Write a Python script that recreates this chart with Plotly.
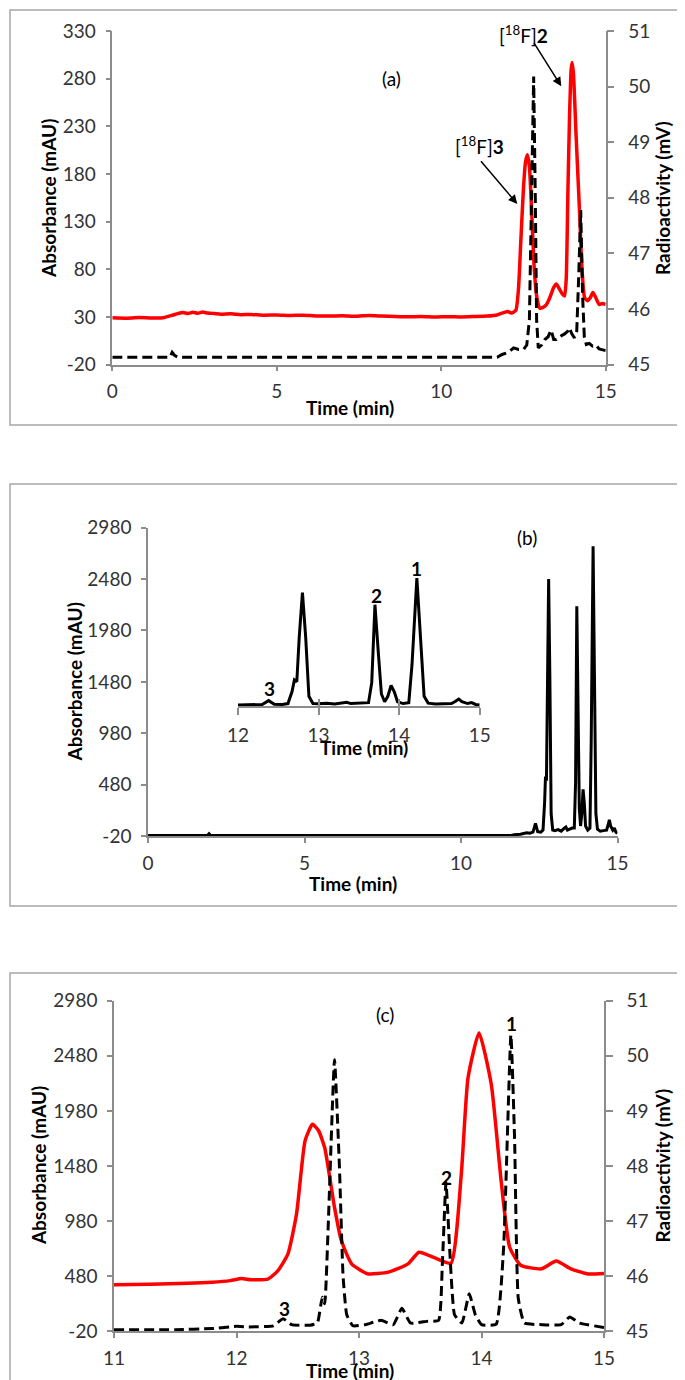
import plotly.graph_objects as go

W, H = 685, 1380
FONT = "Lato, Open Sans, sans-serif"
TXT = "#333333"
GRAY = "#8c8c8c"
FRAME = "#a6a6a6"

# ---------------- Panel (a) ----------------
a_uv_time = [0, 0.4, 0.8, 1.2, 1.55, 1.7, 1.85, 2.0, 2.15, 2.3, 2.45, 2.6, 2.75, 2.9, 3.1, 3.3,
             3.6, 3.9, 4.2, 4.6, 5.0, 5.4, 5.8, 6.2, 6.6, 7.0, 7.4, 7.8, 8.2, 8.6, 9.0, 9.4,
             9.8, 10.2, 10.6, 11.0, 11.4, 11.7, 11.9, 12.03, 12.15, 12.27, 12.35, 12.42, 12.5,
             12.56, 12.62, 12.68, 12.75, 12.82, 12.9, 13.0, 13.1, 13.2, 13.3, 13.42, 13.5,
             13.58, 13.68, 13.75, 13.8, 13.85, 13.9, 13.95, 13.98, 14.02, 14.1, 14.2, 14.28,
             14.36, 14.45, 14.53, 14.61, 14.7, 14.8, 14.9, 15.0]
a_uv_mau = [29, 28.6, 29.2, 28.8, 29, 30.5, 32, 33.5, 34.5, 33.5, 34.8, 33.8, 35, 34, 33.5, 32.8,
            33.2, 32.3, 32.6, 31.8, 32, 31.5, 31.8, 31, 30.8, 31.2, 30.6, 31.5, 30.8, 30.3, 30, 30.4,
            29.8, 30.2, 29.9, 30.3, 30.8, 32, 34.5, 35.5, 34, 37, 60, 110, 165,
            192, 200, 188, 140, 85, 52, 39, 40, 43, 50, 61, 64.5,
            60, 54, 52, 70, 159, 240, 290, 297, 285, 220, 144, 80,
            50, 47, 50, 55.5, 50, 43, 44, 43]
a_rad_time = [0, 1.75, 1.82, 1.9, 2.0, 11.7, 11.85, 12.05, 12.2, 12.35, 12.5, 12.6, 12.68, 12.75,
              12.81, 12.86, 12.9, 12.95, 13.05, 13.15, 13.25, 13.34, 13.42, 13.5, 13.6, 13.75,
              13.85, 13.9, 13.97, 14.05, 14.12, 14.18, 14.24, 14.3, 14.35, 14.41, 14.5, 14.6,
              14.7, 14.8, 15.0]
a_rad_mv = [45.13, 45.13, 45.22, 45.16, 45.13, 45.13, 45.18, 45.22, 45.3, 45.27, 45.27, 45.35, 45.8, 48.6,
            50.18, 48.0, 45.8, 45.3, 45.35, 45.45, 45.5, 45.62, 45.45, 45.45, 45.5, 45.55,
            45.6, 45.66, 45.55, 45.48, 45.6, 46.6, 47.78, 46.2, 45.5, 45.36, 45.38, 45.33,
            45.35, 45.28, 45.25]

# ---------------- Panel (b) ----------------
b_time = [0, 1.9, 1.95, 2.0, 11.6, 11.7, 11.9, 12.0, 12.1, 12.2, 12.3, 12.38, 12.45, 12.55, 12.62,
          12.67, 12.7, 12.73, 12.76, 12.8, 12.84, 12.88, 12.93, 13.0, 13.1, 13.2, 13.3, 13.35,
          13.4, 13.5, 13.55, 13.62, 13.66, 13.7, 13.74, 13.78, 13.82, 13.86, 13.9, 13.94, 13.98,
          14.05, 14.12, 14.16, 14.22, 14.27, 14.31, 14.36, 14.45, 14.55, 14.65, 14.7, 14.74,
          14.78, 14.85, 14.9, 14.95, 15.0]
b_mau = [-12, -12, 5, -12, -12, -5, 0, 10, 15, 10, 20, 105, 25, 20, 40,
         300, 560, 520, 1500, 2480, 1500, 200, 40, 35, 45, 30, 60, 70,
         40, 55, 60, 60, 500, 2215, 1200, 250, 80, 200, 437, 300, 80,
         40, 60, 900, 2798, 1400, 200, 50, 30, 35, 40, 90, 140,
         80, 40, 60, 20, 10]

# ---------------- Panel (c) ----------------
c_uv_time = [11.0, 11.3, 11.6, 11.8, 11.95, 12.04, 12.12, 12.26, 12.34, 12.42, 12.49, 12.56, 12.62,
             12.67, 12.72, 12.80, 12.855, 12.94, 13.07, 13.24, 13.4, 13.49, 13.62, 13.75, 13.835,
             13.89, 13.98, 14.08, 14.16, 14.23, 14.32, 14.49, 14.61, 14.73, 14.87, 15.0]
c_uv_mau = [402, 408, 415, 425, 440, 458, 448, 456, 532, 682, 1044, 1710, 1858,
            1800, 1647, 1104, 806, 592, 502, 517, 592, 697, 646, 598, 1406,
            2280, 2688, 2220, 1349, 743, 580, 547, 617, 547, 500, 505]
c_rad_time = [11.0, 11.5, 11.8, 12.0, 12.1, 12.3, 12.38, 12.45, 12.6, 12.66, 12.7, 12.72, 12.75,
              12.8, 12.84, 12.87, 12.9, 12.95, 13.05, 13.18, 13.28, 13.35, 13.42, 13.55, 13.65,
              13.68, 13.71, 13.74, 13.78, 13.84, 13.9, 13.95, 14.0, 14.12, 14.18, 14.24, 14.27,
              14.3, 14.35, 14.5, 14.65, 14.72, 14.8, 15.0]
c_rad_mv = [45.03, 45.03, 45.05, 45.09, 45.08, 45.1, 45.23, 45.12, 45.11, 45.15, 45.62, 45.5, 47.0,
            49.93, 48.0, 46.0, 45.3, 45.1, 45.12, 45.2, 45.12, 45.42, 45.15, 45.18, 45.2,
            46.2, 47.70, 46.5, 45.3, 45.15, 45.68, 45.3, 45.12, 45.13, 46.5, 50.38, 48.5,
            45.6, 45.15, 45.12, 45.12, 45.26, 45.15, 45.07]

# ---------------- Tick labels ----------------
a_x_ticks = [0, 5, 10, 15]
a_left_ticks = [-20, 30, 80, 130, 180, 230, 280, 330]
rad_ticks = [45, 46, 47, 48, 49, 50, 51]
bc_left_ticks = [-20, 480, 980, 1480, 1980, 2480, 2980]
inset_x_ticks = [12, 13, 14, 15]
c_x_ticks = [11, 12, 13, 14, 15]


def px(x):
    return x / W


def py(y):
    return 1 - y / H


def txt(vals):
    return [str(v) for v in vals]   # keeps a plain hyphen for "-20"


RED = dict(color="#ff0000", width=3.5, shape="spline", smoothing=0.5)
DASH = dict(color="#000000", width=3, dash="10px,5px")
DASH_C = dict(color="#000000", width=3, dash="10px,5px", shape="spline", smoothing=0.4)
SOLID = dict(color="#000000", width=3)

fig = go.Figure()
fig.add_trace(go.Scatter(x=a_uv_time, y=a_uv_mau, mode="lines", line=RED, xaxis="x", yaxis="y"))
fig.add_trace(go.Scatter(x=a_rad_time, y=a_rad_mv, mode="lines", line=DASH, xaxis="x", yaxis="y2"))
fig.add_trace(go.Scatter(x=b_time, y=b_mau, mode="lines", line=SOLID, xaxis="x2", yaxis="y3"))
fig.add_trace(go.Scatter(x=b_time, y=b_mau, mode="lines", line=SOLID, xaxis="x3", yaxis="y4"))
fig.add_trace(go.Scatter(x=[], y=[], mode="lines", xaxis="x5", yaxis="y4", hoverinfo="skip"))
fig.add_trace(go.Scatter(x=c_uv_time, y=c_uv_mau, mode="lines", line=RED, xaxis="x4", yaxis="y5"))
fig.add_trace(go.Scatter(x=c_rad_time, y=c_rad_mv, mode="lines", line=DASH_C, xaxis="x4", yaxis="y6"))

ax = dict(showline=True, linecolor=GRAY, linewidth=1.5, ticks="outside", ticklen=5,
          tickcolor=GRAY, tickwidth=1.5, showgrid=False, zeroline=False, automargin=False,
          tickfont=dict(family=FONT, size=19, color=TXT), fixedrange=True)
xs = dict(ax, ticklabelstandoff=4)
yl = dict(ax, ticklabelstandoff=6)
yr = dict(ax, ticklabelstandoff=10, ticklen=7)

fig.update_layout(
    template="none",
    width=W, height=H, margin=dict(l=0, r=0, t=0, b=0, pad=0),
    paper_bgcolor="white", plot_bgcolor="rgba(0,0,0,0)", showlegend=False,
    xaxis=dict(xs, domain=[px(104.3), px(597.7)], range=[0, 15], tickvals=a_x_ticks,
               ticktext=txt(a_x_ticks), anchor="y"),
    yaxis=dict(yl, domain=[py(356.5), py(23)], range=[-20, 330], tickvals=a_left_ticks,
               ticktext=txt(a_left_ticks), anchor="x"),
    yaxis2=dict(yr, range=[45, 51], tickvals=rad_ticks, ticktext=txt(rad_ticks),
                overlaying="y", side="right", anchor="x"),
    xaxis2=dict(xs, domain=[px(140), px(609.5)], range=[0, 15], tickvals=a_x_ticks,
                ticktext=txt(a_x_ticks), anchor="y3"),
    yaxis3=dict(yl, domain=[py(828.3), py(519.5)], range=[-20, 2980], tickvals=bc_left_ticks,
                ticktext=txt(bc_left_ticks), anchor="x2"),
    xaxis3=dict(xs, domain=[px(230), px(471.7)], range=[12, 15], tickvals=inset_x_ticks,
                ticktext=txt(inset_x_ticks), anchor="y4", ticklen=7),
    # inner half of the inset's cross ticks
    xaxis5=dict(domain=[px(230), px(471.7)], range=[12, 15], tickvals=inset_x_ticks,
                showticklabels=False, showline=False, showgrid=False, zeroline=False,
                ticks="inside", ticklen=7, tickwidth=1.5, tickcolor=GRAY,
                overlaying="x3", anchor="y4", side="bottom", fixedrange=True),
    yaxis4=dict(domain=[py(698.3), py(561)], range=[-20, 3000], visible=False, anchor="x3",
                fixedrange=True, showgrid=False, zeroline=False),
    xaxis4=dict(xs, domain=[px(106), px(596)], range=[11, 15], tickvals=c_x_ticks,
                ticktext=txt(c_x_ticks), anchor="y5"),
    yaxis5=dict(yl, domain=[py(1323.3), py(992.7)], range=[-20, 2980], tickvals=bc_left_ticks,
                ticktext=txt(bc_left_ticks), anchor="x4"),
    yaxis6=dict(yr, range=[45, 51], tickvals=rad_ticks, ticktext=txt(rad_ticks),
                overlaying="y5", side="right", anchor="x4"),
)

# Frames around each panel
for (x0, y0, x1, y1) in [(2, 2, 683, 417), (2, 476, 683, 898), (2, 965, 683, 1378)]:
    fig.add_shape(type="rect", xref="paper", yref="paper", x0=px(x0), x1=px(x1), y0=py(y1), y1=py(y0),
                  line=dict(color=FRAME, width=1.5), fillcolor="rgba(0,0,0,0)", layer="below")


def label(text, x, y, size=18, angle=0, bold=False):
    fig.add_annotation(text=(f"<b>{text}</b>" if bold else text), xref="paper", yref="paper",
                       x=px(x), y=py(y), xanchor="center", yanchor="middle", showarrow=False,
                       textangle=angle, font=dict(family=FONT, size=size, color="#000000"))


# Axis titles
label("Absorbance (mAU)", 40, 191, size=19, angle=-90, bold=True)
label("Radioactivity (mV)", 655, 190, size=19, angle=-90, bold=True)
label("Time (min)", 342, 400, size=19, bold=True)
label("Absorbance (mAU)", 65.5, 674, size=19, angle=-90, bold=True)
label("Time (min)", 345, 875, size=19, bold=True)
label("Time (min)", 356, 739, size=19, bold=True)
label("Absorbance (mAU)", 30.6, 1157.5, size=19, angle=-90, bold=True)
label("Radioactivity (mV)", 654, 1157.5, size=19, angle=-90, bold=True)
label("Time (min)", 342, 1362, size=19, bold=True)

# Panel labels and peak labels
label("(a)", 383, 70, size=19)
label("[<sup>18</sup>F]<b>3</b>", 471.7, 137, size=19)
label("[<sup>18</sup>F]<b>2</b>", 515, 26, size=19)
label("(b)", 519, 529, size=19)
label("3", 261, 681, size=19, bold=True)
label("2", 368, 587, size=19, bold=True)
label("1", 408.5, 560, size=19, bold=True)
label("(c)", 376.6, 1006, size=19)
label("1", 503.3, 1015, size=19, bold=True)
label("2", 438.2, 1169, size=19, bold=True)
label("3", 276.5, 1300.7, size=19, bold=True)

# Arrows in panel (a)
for (hx, hy, tx, ty) in [(509.3, 196, 471.7, 151.7), (553.3, 78.3, 525, 33.3)]:
    fig.add_annotation(text="", xref="paper", yref="paper", x=px(hx), y=py(hy),
                       ax=tx - hx, ay=ty - hy, showarrow=True, arrowhead=2, arrowsize=1.2,
                       arrowwidth=1.5, arrowcolor="#000000")

fig.write_html("out.html")
